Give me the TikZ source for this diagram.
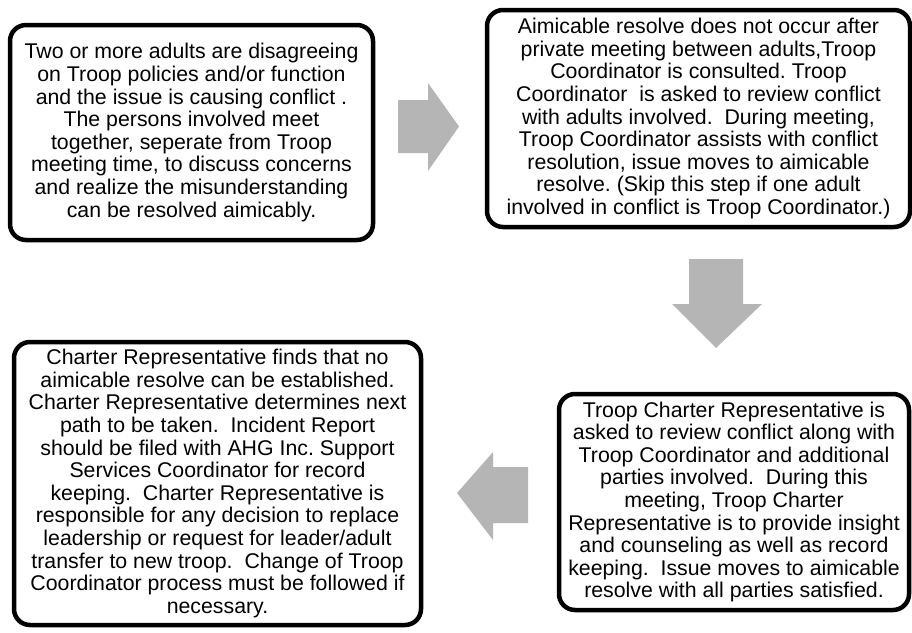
\documentclass[tikz,border=0pt]{standalone}
\usepackage{fontspec}
\setmainfont{Liberation Sans}
\frenchspacing
\definecolor{arrowgray}{RGB}{181,181,181}
\tikzstyle{stepbox}=[draw, line width=4.5pt, rounded corners=16pt, fill=white,
                     align=center, inner sep=0, font=\fontsize{21.3}{22.6}\selectfont]
\tikzstyle{blockarrow}=[fill=arrowgray]
\begin{document}
\begin{tikzpicture}[x=1pt, y=-1pt]
    % Fix the page to the reference size.
    \useasboundingbox (0,0) rectangle (912,632);
    \node[stepbox, minimum width=363pt, minimum height=215pt] (meet) at (191.5,132.5)
        {Two or more adults are disagreeing\\on Troop policies and/or function\\and the issue is causing conflict .\\The persons involved meet\\together, seperate from Troop\\meeting time, to discuss concerns\\and realize the misunderstanding\\can be resolved aimicably.};
    \node[stepbox, minimum width=423pt, minimum height=217pt] (coord) at (698.5,118.5)
        {Aimicable resolve does not occur after\\private meeting between adults,Troop\\Coordinator is consulted. Troop\\Coordinator\ \ is asked to review conflict\\with adults involved.\ \ During meeting,\\Troop Coordinator assists with conflict\\resolution, issue moves to aimicable\\resolve. (Skip this step if one adult\\involved in conflict is Troop Coordinator.)};
    \node[stepbox, minimum width=350pt, minimum height=216pt] (charter) at (734,502)
        {Troop Charter Representative is\\asked to review conflict along with\\Troop Coordinator and additional\\parties involved.\ \ During this\\meeting, Troop Charter\\Representative is to provide insight\\and counseling as well as record\\keeping.\ \ Issue moves to aimicable\\resolve with all parties satisfied.};
    \node[stepbox, minimum width=407pt, minimum height=283pt] (report) at (217.5,483.5)
        {Charter Representative finds that no\\aimicable resolve can be established.\\Charter Representative determines next\\path to be taken.\ \ Incident Report\\should be filed with AHG Inc. Support\\Services Coordinator for record\\keeping.\ \ Charter Representative is\\responsible for any decision to replace\\leadership or request for leader/adult\\transfer to new troop.\ \ Change of Troop\\Coordinator process must be followed if\\necessary.};
    % Block arrows between the steps.
    \coordinate (right1) at (398,126.5);
    \coordinate (down1) at (716,259);
    \coordinate (left1) at (528,495);
    \fill[blockarrow] (right1) ++(0,-26.5) -- ++(30,0) -- ++(0,-17) -- (459,126.5) -- (428,171) -- (428,153) -- (398,153) -- cycle;
    \fill[blockarrow] (down1) ++(-27,0) -- ++(54,0) -- ++(0,45) -- ++(19,0) -- (716,348) -- (672,304) -- (689,304) -- cycle;
    \fill[blockarrow] (left1) ++(0,-28) -- ++(0,56) -- ++(-35,0) -- ++(0,17) -- (457,493) -- (493,452) -- (493,467) -- cycle;
\end{tikzpicture}
\end{document}
